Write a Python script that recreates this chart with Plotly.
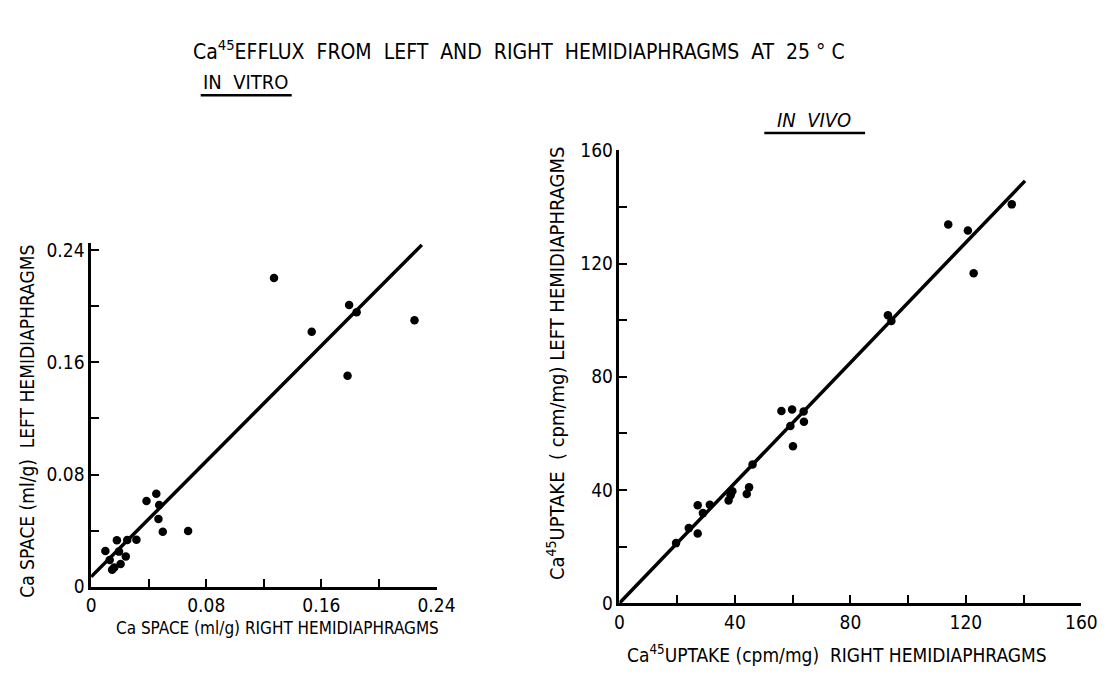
import plotly.graph_objects as go

# ---- In vitro: Ca space (ml/g), right vs left hemidiaphragm ----
vitro_right = [0.1271, 0.1793, 0.1845, 0.2247, 0.1533, 0.1782, 0.0453, 0.0385,
               0.0473, 0.0468, 0.0498, 0.0674, 0.0315, 0.0251, 0.0179, 0.0099,
               0.0194, 0.0129, 0.0241, 0.0205, 0.0146, 0.0161]
vitro_left = [0.2202, 0.2010, 0.1958, 0.1901, 0.1818, 0.1504, 0.0663, 0.0611,
              0.0583, 0.0483, 0.0392, 0.0397, 0.0335, 0.0333, 0.0331, 0.0254,
              0.0250, 0.0190, 0.0216, 0.0162, 0.0121, 0.0137]
vitro_fit_x = [0.0, 0.2298]
vitro_fit_y = [0.007, 0.2438]
vitro_ticks = [0, 0.08, 0.16, 0.24]
vitro_ticklabels = ["0", "0.08", "0.16", "0.24"]

# ---- In vivo: Ca45 uptake (cpm/mg), right vs left hemidiaphragm ----
vivo_right = [19.6, 24.0, 27.1, 27.1, 28.9, 31.3, 37.8, 38.5, 39.1, 44.1,
              44.9, 46.1, 56.1, 59.8, 59.2, 63.8, 63.9, 60.1, 93.0, 94.2,
              113.9, 120.7, 122.7, 135.9]
vivo_left = [21.2, 26.5, 24.6, 34.6, 31.8, 34.8, 36.3, 38.1, 39.5, 38.6,
             40.9, 49.0, 67.9, 68.4, 62.6, 67.7, 64.1, 55.4, 101.7, 99.7,
             133.8, 131.7, 116.6, 140.9]
vivo_fit_x = [0.0, 140.5]
vivo_fit_y = [0.0, 149.2]
vivo_ticks = [0, 40, 80, 120, 160]
vivo_ticklabels = ["0", "40", "80", "120", "160"]

W, H = 1115, 677
FONT = "DejaVu Sans Condensed, Liberation Sans Narrow, Arial Narrow, sans-serif"
INK = "#000000"


def px(x):
    return x / W


def py(y):
    return 1 - y / H


fig = go.Figure()

fig.add_trace(go.Scatter(x=vitro_fit_x, y=vitro_fit_y, mode="lines",
                         line=dict(color=INK, width=3.5), xaxis="x", yaxis="y",
                         hoverinfo="skip"))
fig.add_trace(go.Scatter(x=vitro_right, y=vitro_left, mode="markers",
                         marker=dict(color=INK, size=8.5), xaxis="x", yaxis="y"))
fig.add_trace(go.Scatter(x=vivo_fit_x, y=vivo_fit_y, mode="lines",
                         line=dict(color=INK, width=3.5), xaxis="x2", yaxis="y2",
                         hoverinfo="skip"))
fig.add_trace(go.Scatter(x=vivo_right, y=vivo_left, mode="markers",
                         marker=dict(color=INK, size=8.5), xaxis="x2", yaxis="y2"))

axis_common = dict(showgrid=False, zeroline=False, showline=True, linecolor=INK,
                   linewidth=2.5, ticks="inside", ticklen=8, tickwidth=2,
                   tickcolor=INK, tickfont=dict(family=FONT, size=19, color=INK))


def minor(step):
    return dict(dtick=step, tick0=0, ticks="inside", ticklen=8, tickwidth=2,
                tickcolor=INK)


fig.update_layout(
    width=W, height=H,
    margin=dict(l=0, r=0, t=0, b=0),
    paper_bgcolor="white", plot_bgcolor="white",
    showlegend=False,
    xaxis=dict(domain=[px(88), px(441)], range=[0, 0.24], anchor="y",
               tickvals=vitro_ticks, ticktext=vitro_ticklabels,
               minor=minor(0.04), **axis_common),
    yaxis=dict(domain=[py(595), py(240)], range=[0, 0.245], anchor="x",
               tickvals=vitro_ticks, ticktext=vitro_ticklabels,
               minor=minor(0.04), **axis_common),
    xaxis2=dict(domain=[px(628), px(1100)], range=[0, 160], anchor="y2",
                tickvals=vivo_ticks, ticktext=vivo_ticklabels,
                minor=minor(20), **axis_common),
    yaxis2=dict(domain=[py(612), py(144)], range=[0, 160], anchor="x2",
                tickvals=vivo_ticks, ticktext=vivo_ticklabels,
                minor=minor(20), **axis_common),
)


def label(text, x, y, size, angle=0):
    fig.add_annotation(text=text, x=px(x), y=py(y), xref="paper", yref="paper",
                       showarrow=False, textangle=angle, xanchor="center",
                       yanchor="middle", font=dict(family=FONT, size=size, color=INK))


label("Ca<sup>45</sup>EFFLUX  FROM  LEFT  AND  RIGHT  HEMIDIAPHRAGMS  AT  25 ° C",
      525, 40, 21)
label("IN  VITRO", 246, 73, 20)
label("<i>IN  VIVO</i>", 827, 113, 20)
label("Ca SPACE (ml/g) RIGHT HEMIDIAPHRAGMS", 279, 638, 17)
label("Ca SPACE (ml/g)  LEFT HEMIDIAPHRAGMS", 23, 424, 19, -90)
label("Ca<sup>45</sup>UPTAKE (cpm/mg)  RIGHT HEMIDIAPHRAGMS", 850, 665, 19)
label("Ca<sup>45</sup>UPTAKE  ( cpm/mg) LEFT HEMIDIAPHRAGMS", 563, 364, 20, -90)

# underlines beneath the panel headings
fig.add_shape(type="line", xref="paper", yref="paper", x0=px(200), x1=px(293),
              y0=py(87), y1=py(87), line=dict(color=INK, width=2.5))
fig.add_shape(type="line", xref="paper", yref="paper", x0=px(776), x1=px(879),
              y0=py(126), y1=py(126), line=dict(color=INK, width=2.5))

fig.write_html("out.html")
